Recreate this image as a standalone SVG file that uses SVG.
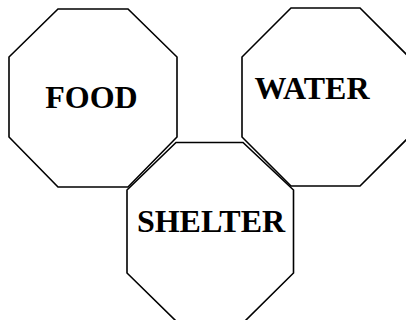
<svg xmlns="http://www.w3.org/2000/svg" width="406" height="320" viewBox="0 0 406 320">
<style>
.oct{fill:none;stroke:#000;stroke-width:1.6;stroke-linejoin:miter}
.lbl{font-family:"Liberation Serif","Times New Roman",serif;font-weight:bold;font-size:32px;fill:#000;text-anchor:middle}
</style>
<rect width="406" height="320" fill="#fff"/>
<g id="food">
<polygon class="oct" points="58,9 128,9 177,57 177,137 128,187 58,187 9,137 9,57"/>
<text class="lbl" x="91.5" y="108">FOOD</text>
</g>
<g id="water">
<polygon class="oct" points="291,8 360,8 409,57 409,137 360,186 291,186 242,137 242,57"/>
<text class="lbl" x="312" y="99">WATER</text>
</g>
<g id="shelter">
<polygon class="oct" points="176,142.5 243,142.5 293.5,190 293.5,273 245,321 176,321 127,273 127,190"/>
<text class="lbl" x="211" y="232">SHELTER</text>
</g>
<g id="connectors"></g>
</svg>
